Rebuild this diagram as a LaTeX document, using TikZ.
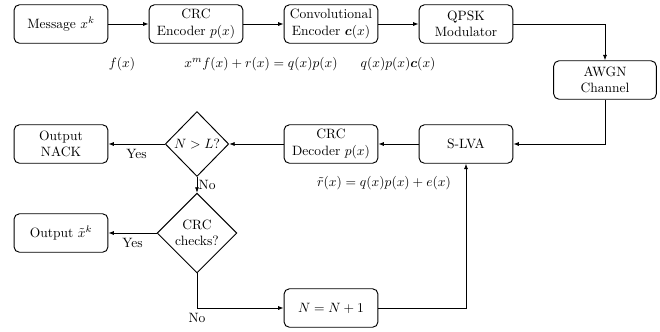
\documentclass[tikz,border=0pt]{standalone}
\usepackage{amsmath, amssymb}
\usepackage{bm}
\usetikzlibrary{shapes.geometric, arrows.meta, positioning}
\tikzset{
  blocco/.style = {draw, line width=0.7pt, rounded corners=4pt, align=center,
    minimum width=69.5pt, minimum height=28.5pt, inner sep=1pt},
  rombo/.style = {draw, line width=0.7pt, diamond, align=center, inner sep=0pt},
  freccia/.style = {-{Latex[length=4pt, width=3pt]}, line width=0.55pt}
}

\begin{document}
\begin{tikzpicture}[x = 0.74pt, y = -0.74pt]
    \useasboundingbox (0,0) rectangle (660,331);
    % Catena di trasmissione
    \node[blocco] (msg) at (61,24) {Message $x^k$};
    \node[blocco] (crcenc) at (196,24) {CRC\\Encoder $p(x)$};
    \node[blocco] (conv) at (331,24) {Convolutional\\Encoder $\bm{c}(x)$};
    \node[blocco] (qpsk) at (466,24) {QPSK\\Modulator};
    \node[blocco, minimum width=76pt] (awgn) at (605,80) {AWGN\\Channel};
    % Ricevitore
    \node[blocco] (slva) at (466,144) {S-LVA};
    \node[blocco] (crcdec) at (331,144) {CRC\\Decoder $p(x)$};
    \node[rombo, minimum width=47pt, minimum height=48pt] (nl) at (197,144) {$N > L$?};
    \node[blocco] (nack) at (61,144) {Output\\NACK};
    \node[rombo, minimum width=59pt, minimum height=59pt] (check) at (197,233) {CRC\\checks?};
    \node[blocco] (out) at (61,233) {Output $\tilde{x}^k$};
    \node[blocco] (inc) at (331,308) {$N = N+1$};
    % Polinomi
    \node at (122,64) {$f(x)$};
    \node at (261,64) {$x^m f(x) + r(x) = q(x)p(x)$};
    \node at (398,64) {$q(x)p(x)\bm{c}(x)$};
    \node at (384,183) {$\tilde{r}(x) = q(x)p(x) + e(x)$};
    % Frecce
    \draw[freccia] (msg) -- (crcenc);
    \draw[freccia] (crcenc) -- (conv);
    \draw[freccia] (conv) -- (qpsk);
    \draw[freccia] (qpsk.east) -| (awgn.north);
    \draw[freccia] (awgn.south) |- (slva.east);
    \draw[freccia] (slva) -- (crcdec);
    \draw[freccia] (crcdec) -- (nl);
    \draw[freccia] (nl) -- node[below]{Yes} (nack);
    \draw[freccia] (nl) -- node[right, inner sep=1pt]{No} (check);
    \draw[freccia] (check) -- node[below]{Yes} (out);
    \draw[freccia] (check.south) |- node[pos=0.5, below]{No} (inc.west);
    \draw[freccia] (inc.east) -| (slva.south);
\end{tikzpicture}
\end{document}
